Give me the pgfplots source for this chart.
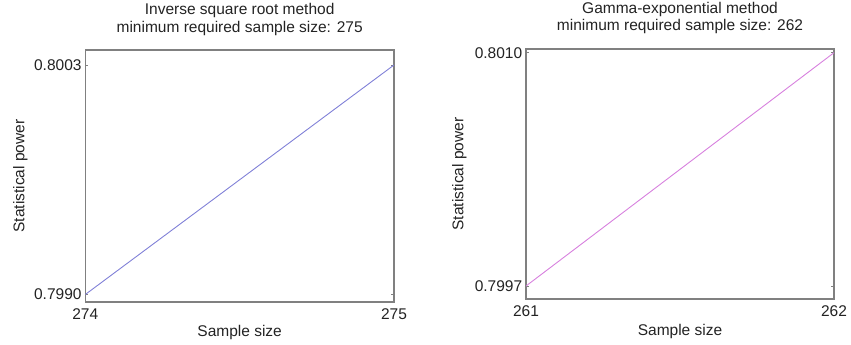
\documentclass[border=0pt]{standalone}
\usepackage{fontspec}
\setmainfont{Liberation Sans}
\usepackage{pgfplots}
\pgfplotsset{compat=1.18}
\definecolor{boxgray}{RGB}{128,128,128}
\definecolor{lineblue}{RGB}{128,128,215}
\definecolor{linepink}{RGB}{215,128,222}
\definecolor{txt}{RGB}{35,35,35}
\pgfplotsset{
  myax/.style={
    scale only axis,
    anchor=south west,
    axis line style={boxgray, line width=1.2bp},
    tick style={boxgray, line width=0.8bp},
    major tick length=3bp,
    tick align=inside,
    tick pos=both,
    scaled ticks=false,
    xticklabel style={text=txt, anchor=north, inner sep=0pt, yshift=-6bp},
    yticklabel style={text=txt, anchor=east, inner sep=0pt, xshift=-3.6bp},
    title style={align=center, at={(0.5,1)}, anchor=south, inner sep=0pt, text=txt},
    label style={text=txt},
    xlabel={Sample size},
    ylabel={Statistical power},
  }
}
\begin{document}
\begin{tikzpicture}[font=\fontsize{15.5bp}{17.6bp}\selectfont]
\useasboundingbox (0,0) rectangle (851bp,-345bp);
\begin{axis}[myax,
  at={(85.3bp,-302bp)},
  width=308.7bp, height=252bp,
  xmin=274, xmax=275,
  ymin=0.7989575, ymax=0.800385,
  xtick={274,275}, xticklabels={274,275},
  ytick={0.7990,0.8003}, yticklabels={0.7990,0.8003},
  title={Inverse square root method\\minimum required sample size: 275},
  title style={yshift=8.4bp},
  xlabel style={at={(axis description cs:0.5,-0.135)}, anchor=base},
  ylabel style={at={(axis description cs:-0.197,0.5)}, anchor=base, rotate=0},
]
\addplot[lineblue, line width=0.9bp] coordinates {(274,0.7990) (275,0.8003)};
\end{axis}
\begin{axis}[myax,
  at={(526bp,-299bp)},
  width=308bp, height=250bp,
  xmin=261, xmax=262,
  ymin=0.7996276, ymax=0.8010206,
  xtick={261,262}, xticklabels={261,262},
  ytick={0.7997,0.8010}, yticklabels={0.7997,0.8010},
  title={Gamma-exponential method\\minimum required sample size: 262},
  title style={yshift=9bp},
  xlabel style={at={(axis description cs:0.5,-0.144)}, anchor=base},
  ylabel style={at={(axis description cs:-0.2036,0.5)}, anchor=base},
]
\addplot[linepink, line width=0.9bp] coordinates {(261,0.7997) (262,0.8010)};
\end{axis}
\end{tikzpicture}
\end{document}
